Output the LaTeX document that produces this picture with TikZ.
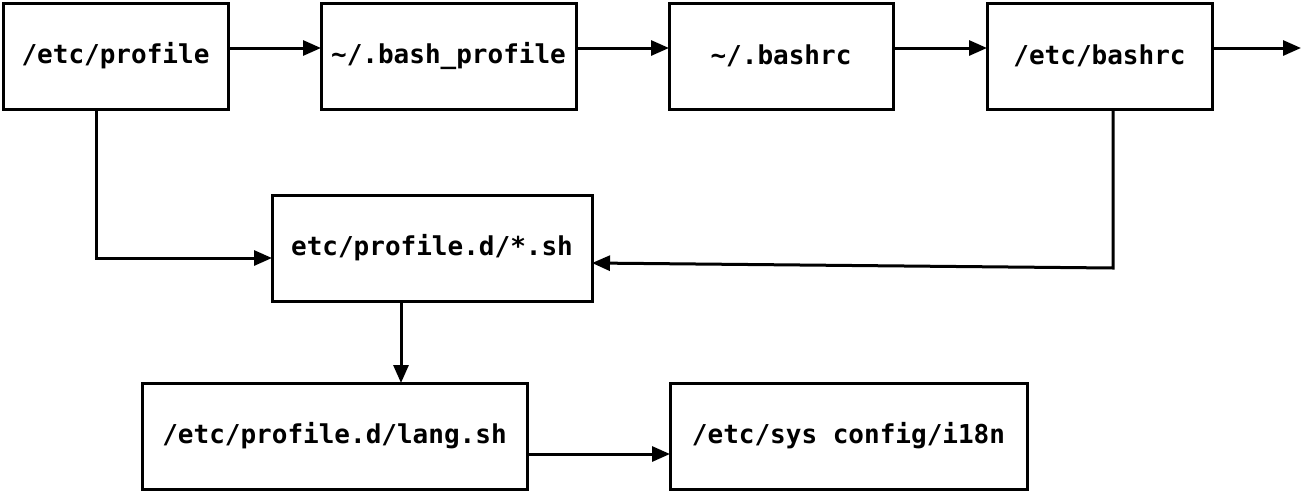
\documentclass[tikz,border=0pt]{standalone}
\usepackage{fontspec}
\setmonofont{DejaVu Sans Mono}
\usetikzlibrary{arrows.meta,positioning,calc}
\tikzset{
  filebox/.style={rectangle,draw=black,line width=3pt,fill=white,outer sep=0pt,
                  align=center,minimum height=106pt,
                  font=\ttfamily\bfseries\fontsize{26}{30}\selectfont},
  arr/.style={-{Triangle[length=18pt,width=15pt]},line width=3pt,color=black}
}
\begin{document}
\begin{tikzpicture}[x=1pt,y=-1pt]
  \useasboundingbox (0,0) rectangle (1303,493);
  % top row
  \node[filebox,minimum width=225pt] (prof) at (115.5,56) {/etc/profile};
  \node[filebox,minimum width=255pt] (bprof) at (448.5,56) {\textasciitilde/.bash\_profile};
  \node[filebox,minimum width=224pt] (brc) at (781,56) {\textasciitilde/.bashrc};
  \node[filebox,minimum width=225pt] (ebrc) at (1099.5,56) {/etc/bashrc};
  \coordinate (out) at (1301,48);
  % middle and bottom
  \node[filebox,minimum width=320pt] (pd) at (432,248) {etc/profile.d/*.sh};
  \node[filebox,minimum width=385pt] (lang) at (334.5,436) {/etc/profile.d/lang.sh};
  \node[filebox,minimum width=357pt] (i18n) at (848.5,436) {/etc/sys config/i18n};
  \coordinate (bend) at (1113,268);

  \draw[arr] ([yshift=8pt]prof.east) -- ([yshift=8pt]bprof.west);
  \draw[arr] ([yshift=8pt]bprof.east) -- ([yshift=8pt]brc.west);
  \draw[arr] ([yshift=8pt]brc.east) -- ([yshift=8pt]ebrc.west);
  \draw[arr] ([yshift=8pt]ebrc.east) -- (out);
  \draw[arr] ([xshift=-19.5pt]prof.south) |- ([yshift=-10pt]pd.west);
  \draw[arr] ([xshift=13.5pt]ebrc.south) -- (bend) -- ([yshift=-15pt]pd.east);
  \draw[arr] ([xshift=-31pt]pd.south) -- ([xshift=-31pt]pd.south |- lang.north);
  \draw[arr] ([yshift=-18pt]lang.east) -- ([yshift=-18pt]lang.east -| i18n.west);
\end{tikzpicture}
\end{document}
